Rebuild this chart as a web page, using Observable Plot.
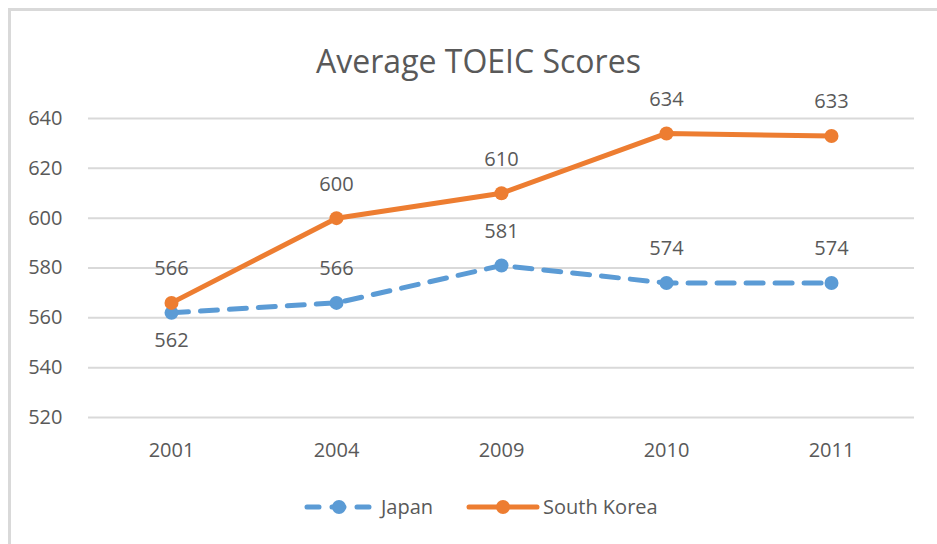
<!DOCTYPE html>
<html>
<head>
<meta charset="utf-8">
<script src="https://cdn.jsdelivr.net/npm/d3@7"></script>
<script src="https://cdn.jsdelivr.net/npm/@observablehq/plot@0.6"></script>
<style>
  html, body { margin: 0; padding: 0; background: #fff; }
  #wrap { position: relative; width: 937px; height: 544px; overflow: hidden; font-family: "Open Sans", sans-serif; }
  #frame { position: absolute; left: 8px; top: 8px; width: 940px; height: 560px; border-left: 3px solid #d9d9d9; border-top: 3px solid #d9d9d9; box-sizing: border-box; }
  #title { position: absolute; left: 0; width: 957px; top: 45px; text-align: center; font-size: 32px; color: #595959; line-height: 1; }
  #chart { position: absolute; left: 0; top: 0; }
  #legend { position: absolute; left: 0; top: 494px; width: 937px; height: 28px; }
</style>
</head>
<body>
<div id="wrap">
  <div id="frame"></div>
  <div id="chart"></div>
  <div id="title">Average TOEIC Scores</div>
  <svg id="legend" width="937" height="28"></svg>
</div>
<script>
const years = ["2001", "2004", "2009", "2010", "2011"];
const japan = [562, 566, 581, 574, 574];
const southKorea = [566, 600, 610, 634, 633];
const yTicks = [520, 540, 560, 580, 600, 620, 640];
const seriesNames = ["Japan", "South Korea"];
const seriesColors = ["#5B9BD5", "#ED7D31"];

const jp = years.map((y, i) => ({year: y, value: japan[i], other: southKorea[i]}));
const kr = years.map((y, i) => ({year: y, value: southKorea[i]}));

const txt = "#595959";
const chart = Plot.plot({
  width: 937,
  height: 544,
  marginLeft: 88,
  marginRight: 23,
  marginTop: 118,
  marginBottom: 127,
  style: {fontFamily: "Open Sans, sans-serif", fontSize: "20px", color: txt, background: "transparent"},
  x: {type: "point", domain: years, padding: 0.5, label: null},
  y: {domain: [520, 640], label: null},
  marks: [
    Plot.ruleY(yTicks, {stroke: "#d9d9d9", strokeWidth: 2, strokeOpacity: 1}),
    Plot.axisY(yTicks, {tickSize: 0, tickPadding: 26, fontSize: 20, fill: txt, label: null}),
    Plot.axisX({tickSize: 0, tickPadding: 25, fontSize: 20, fill: txt, label: null}),
    Plot.line(jp, {x: "year", y: "value", stroke: seriesColors[0], strokeWidth: 5, strokeDasharray: "17,12", strokeLinecap: "round"}),
    Plot.dot(jp, {x: "year", y: "value", r: 7, fill: seriesColors[0], stroke: "none"}),
    Plot.line(kr, {x: "year", y: "value", stroke: seriesColors[1], strokeWidth: 5, strokeLinecap: "round"}),
    Plot.dot(kr, {x: "year", y: "value", r: 7, fill: seriesColors[1], stroke: "none"}),
    Plot.text(kr, {x: "year", y: "value", text: d => String(d.value), dy: -34, fill: txt, fontSize: 20}),
    Plot.text(jp.filter(d => d.other - d.value >= 20), {x: "year", y: "value", text: d => String(d.value), dy: -34, fill: txt, fontSize: 20}),
    Plot.text(jp.filter(d => d.other - d.value < 20), {x: "year", y: "value", text: d => String(d.value), dy: 28, fill: txt, fontSize: 20})
  ]
});
document.getElementById("chart").appendChild(chart);

// Legend
const lg = d3.select("#legend");
const items = [
  {name: seriesNames[0], color: seriesColors[0], x0: 305, x1: 373, dash: "12,13", tx: 381},
  {name: seriesNames[1], color: seriesColors[1], x0: 467, x1: 539, dash: null, tx: 543}
];
for (const it of items) {
  lg.append("line").attr("x1", it.x0 + 2).attr("x2", it.x1 - 2).attr("y1", 13).attr("y2", 13)
    .attr("stroke", it.color).attr("stroke-width", 5).attr("stroke-linecap", "round")
    .attr("stroke-dasharray", it.dash);
  lg.append("circle").attr("cx", (it.x0 + it.x1) / 2).attr("cy", 13).attr("r", 7).attr("fill", it.color);
  lg.append("text").attr("x", it.tx).attr("y", 13).attr("dy", "0.35em")
    .attr("font-family", "Open Sans, sans-serif").attr("font-size", 20).attr("fill", txt).text(it.name);
}
</script>
</body>
</html>
